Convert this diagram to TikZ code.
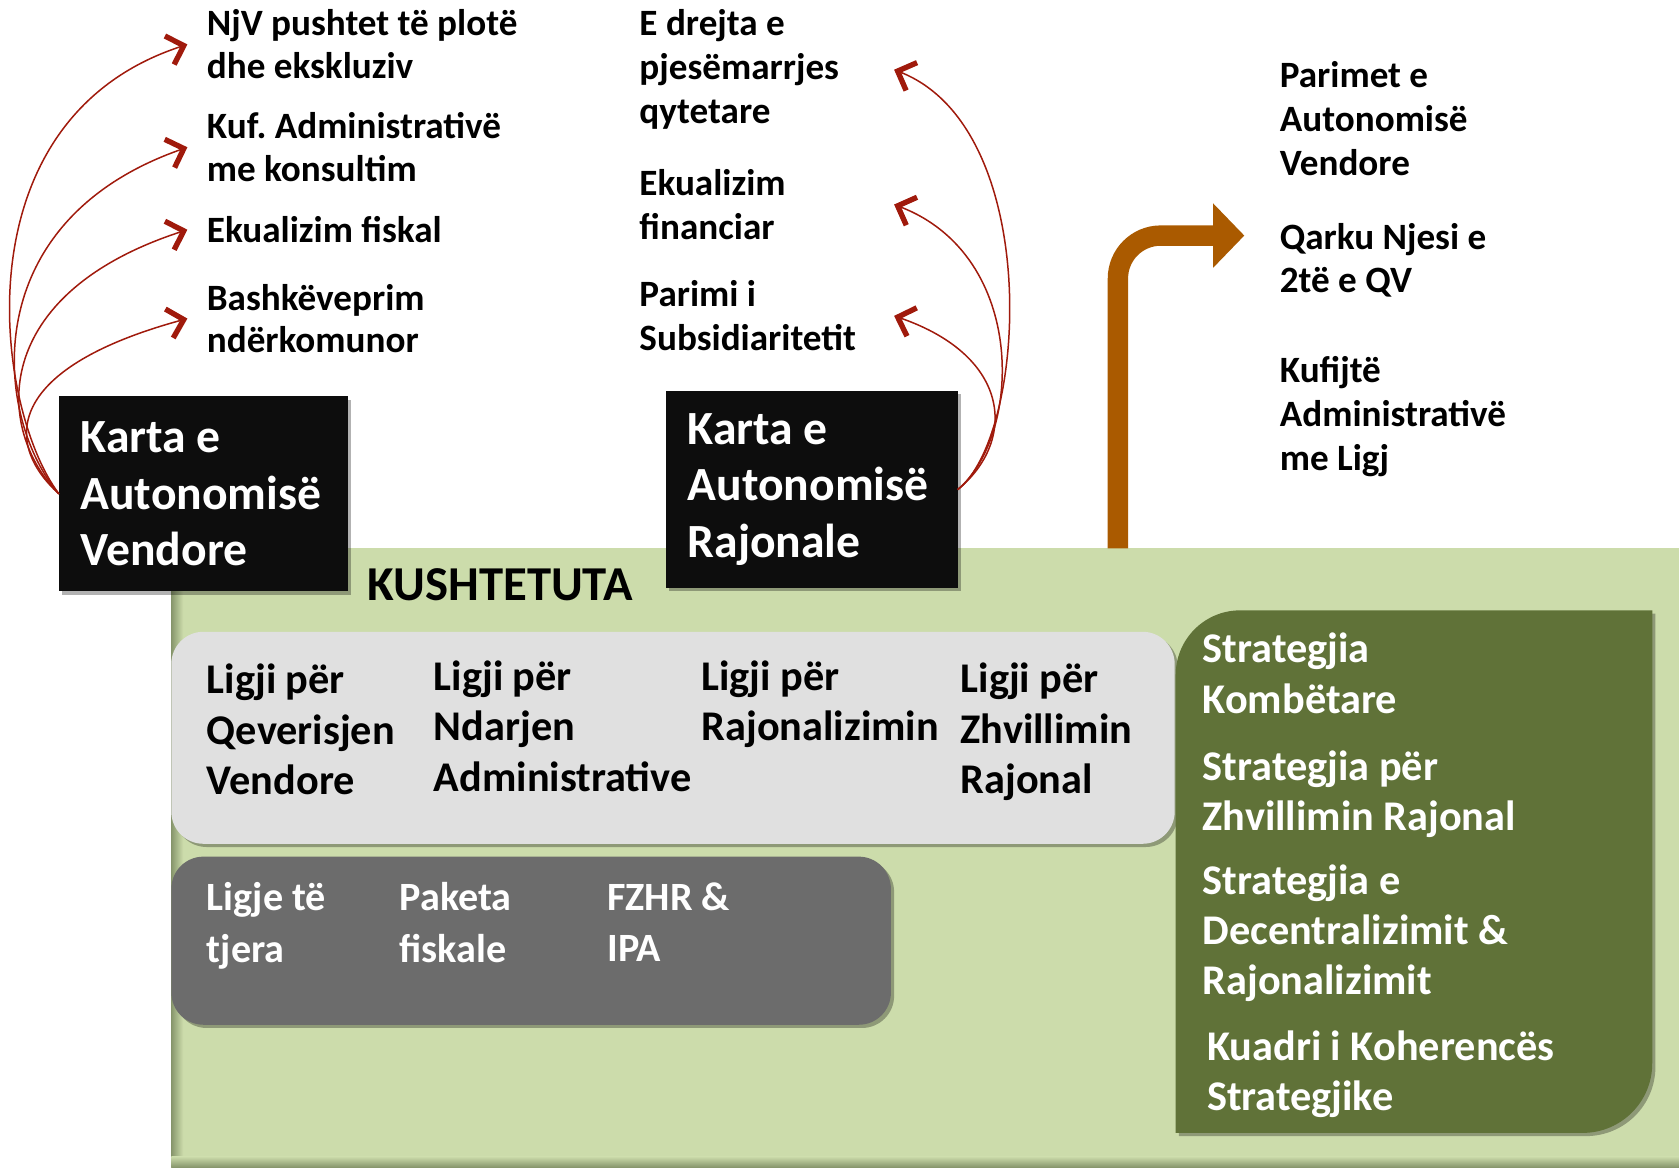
\documentclass[tikz,border=0pt]{standalone}
\usepackage{fontspec}
\setmainfont{Carlito}
\frenchspacing
\usetikzlibrary{arrows.meta,shadows}
\definecolor{bggreen}{RGB}{204,220,171}
\definecolor{bgshade}{RGB}{135,150,108}
\definecolor{dgreen}{RGB}{96,114,56}
\definecolor{lgray}{RGB}{224,224,224}
\definecolor{dgray}{RGB}{108,108,108}
\definecolor{boxblack}{RGB}{13,13,13}
\definecolor{arrred}{RGB}{160,26,12}
\definecolor{arrorange}{RGB}{170,90,0}
\begin{document}
\begin{tikzpicture}[x=1pt,y=-1pt,
  myshadow/.style={drop shadow={shadow xshift=3pt,shadow yshift=-3pt,opacity=0.3,fill=black}},
  txt/.style={anchor=north west,inner sep=0pt,align=left,font=\fontsize{34.7pt}{40pt}\selectfont\bfseries},
  txtb/.style={txt,font=\fontsize{34.7pt}{41pt}\selectfont\bfseries},
  lawtxt/.style={txt,font=\fontsize{39.5pt}{47pt}\selectfont\bfseries},
  othtxt/.style={txt,text=white,font=\fontsize{37.5pt}{48pt}\selectfont\bfseries},
  strtxt/.style={txt,text=white,font=\fontsize{39.5pt}{47pt}\selectfont\bfseries},
  blackbox/.style={fill=boxblack,text=white,anchor=north west,align=flush left,inner xsep=20pt,inner ysep=0pt,
    font=\fontsize{44.5pt}{53pt}\selectfont\bfseries,myshadow},
  redarr/.style={draw=arrred,line width=1.4pt,-{Straight Barb[length=14pt,width=28pt,line width=5pt]}},
]
\useasboundingbox (0,0) rectangle (1568,1090);

% constitution background
\fill[bggreen] (160,512) rectangle (1568,1090);
\shade[left color=bgshade,right color=bggreen] (160,512) rectangle (171,1090);
\shade[top color=bggreen,bottom color=bgshade] (160,1080) rectangle (1568,1090);

% law boxes
\fill[lgray,rounded corners=30pt,myshadow] (160,590) rectangle (1097,788);
\fill[dgray,rounded corners=30pt,myshadow] (160,800) rectangle (832,957);

% strategy box
\fill[dgreen,myshadow] (1098,1058) -- (1098,630) .. controls (1098,597) and (1125,570) .. (1158,570)
  -- (1543,570) -- (1543,993) .. controls (1543,1029) and (1514,1058) .. (1478,1058) -- cycle;

% black boxes
\node[blackbox,text width=230pt,minimum width=270pt,minimum height=182pt] (kv) at (55,370)
  {Karta e\\Autonomisë\\Vendore};
\node[blackbox,text width=232pt,minimum width=272pt,minimum height=184pt] (kr) at (622,365)
  {Karta e\\Autonomisë\\Rajonale};

\node[txt,font=\fontsize{45.5pt}{50pt}\selectfont\bfseries] (kush) at (343,531) {KUSHTETUTA};

% left list
\node[txt] (l1) at (193,9) {NjV pushtet të plotë\\dhe ekskluziv};
\node[txt] (l2) at (193,105) {Kuf. Administrativë\\me konsultim};
\node[txt] (l3) at (193,202) {Ekualizim fiskal};
\node[txt] (l4) at (193,265) {Bashkëveprim\\ndërkomunor};

% middle list
\node[txtb] (m1) at (597,9) {E drejta e\\pjesëmarrjes\\qytetare};
\node[txtb] (m2) at (597,158) {Ekualizim\\financiar};
\node[txtb] (m3) at (597,262) {Parimi i\\Subsidiaritetit};

% right list
\node[txtb] (r1) at (1195,57) {Parimet e\\Autonomisë\\Vendore};
\node[txtb] (r2) at (1195,208) {Qarku Njesi e\\2të e QV};
\node[txtb] (r3) at (1195,333) {Kufijtë\\Administrativë\\me Ligj};

% laws
\node[lawtxt] (law1) at (193,620) {Ligji për\\Qeverisjen\\Vendore};
\node[lawtxt] (law2) at (405,617) {Ligji për\\Ndarjen\\Administrative};
\node[lawtxt] (law3) at (655,617) {Ligji për\\Rajonalizimin};
\node[lawtxt] (law4) at (897,619) {Ligji për\\Zhvillimin\\Rajonal};

\node[othtxt] (o1) at (193,824) {Ligje të\\tjera};
\node[othtxt] (o2) at (373,824) {Paketa\\fiskale};
\node[othtxt] (o3) at (567,824) {FZHR \&\\IPA};

% strategies
\node[strtxt] (s1) at (1123,591) {Strategjia\\Kombëtare};
\node[strtxt] (s2) at (1123,701) {Strategjia për\\Zhvillimin Rajonal};
\node[strtxt] (s3) at (1123,807) {Strategjia e\\Decentralizimit \&\\Rajonalizimit};
\node[strtxt] (s4) at (1127,962) {Kuadri i Koherencës\\Strategjike};

% red curved arrows (left)
\draw[redarr] (kv.west) .. controls +(-60,-80) and +(-215,70) .. ([xshift=-18pt]l1.west);
\draw[redarr] (kv.west) .. controls +(-60,-70) and +(-200,70) .. ([xshift=-18pt]l2.west);
\draw[redarr] (kv.west) .. controls +(-60,-60) and +(-185,60) .. ([xshift=-18pt]l3.west);
\draw[redarr] (kv.west) .. controls +(-55,-50) and +(-165,45) .. ([xshift=-18pt]l4.west);

% red curved arrows (right)
\draw[redarr] (kr.east) .. controls +(65,-50) and +(140,55) .. ([xshift=238pt]m1.west);
\draw[redarr] (kr.east) .. controls +(60,-50) and +(125,48) .. ([xshift=238pt]m2.west);
\draw[redarr] (kr.east) .. controls +(55,-45) and +(110,38) .. ([xshift=238pt]m3.west);

% orange bent arrow
\coordinate (oa) at (1044,512);
\coordinate (ob) at (1134,220);
\draw[arrorange,line width=19pt,rounded corners=40pt] (oa) |- (ob);
\fill[arrorange] (1133,190) -- (1162,220) -- (1133,250) -- cycle;
\end{tikzpicture}
\end{document}
